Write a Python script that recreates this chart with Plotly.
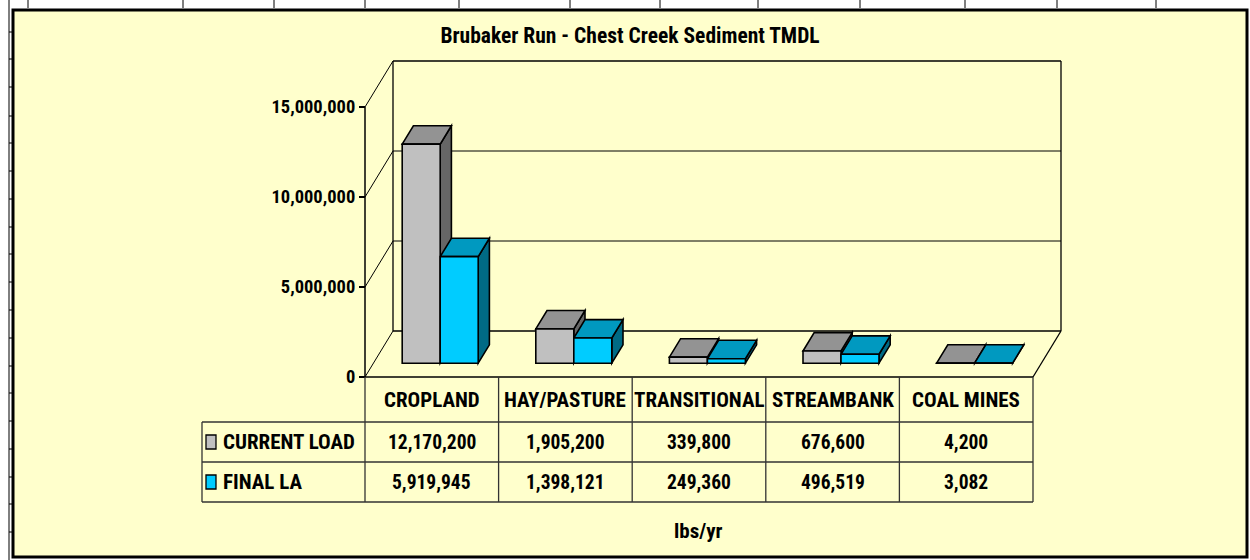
import plotly.graph_objects as go

# ---------------- data ----------------
categories = ["CROPLAND", "HAY/PASTURE", "TRANSITIONAL", "STREAMBANK", "COAL MINES"]
series_names = ["CURRENT LOAD", "FINAL LA"]
current_load = [12170200, 1905200, 339800, 676600, 4200]
final_la = [5919945, 1398121, 249360, 496519, 3082]
y_tick_values = [0, 5000000, 10000000, 15000000]
title_text = "Brubaker Run - Chest Creek Sediment TMDL"
unit_label = "lbs/yr"

series_values = [current_load, final_la]

# ---------------- styles / geometry ----------------
W, H = 1250, 560
FONT = "Liberation Sans Narrow, Arial Narrow, Roboto Condensed, DejaVu Sans Condensed, Arial, sans-serif"
BG = "#FFFFCC"
FRONT_COLORS = ["#C0C0C0", "#00CCFF"]
TOP_COLORS = ["#939393", "#0099C0"]
SIDE_COLORS = ["#666666", "#006A85"]
TXT_SIZE = 21      # letters
NUM_SIZE = 19.5    # numbers in the table
TICK_SIZE = 18.5   # axis tick labels

X0_PX, Y0_PX = 365, 377          # pixel position of category 0 / value 0 on the front plane
PX_PER_CAT = 133.6
PX_PER_VAL = 90 / 5e6
DEPTH_PX_X, DEPTH_PX_Y = 28, 46
DX = DEPTH_PX_X / PX_PER_CAT     # depth offset in category units
DY = DEPTH_PX_Y / PX_PER_VAL     # depth offset in value units
Z0, Z1 = 0.3, 0.7                # front / back depth fraction of the bars
BAR_W = 38 / PX_PER_CAT

n = len(categories)
vmax = y_tick_values[-1]

# main axes ranges (small padding so edge lines are not clipped)
XMIN, XMAX = -0.05, n + DX + 0.05
YMIN, YMAX = -0.3e6, vmax + DY + 0.3e6
x_dom = [(X0_PX + XMIN * PX_PER_CAT) / W, (X0_PX + XMAX * PX_PER_CAT) / W]
y_dom = [1 - (Y0_PX - YMIN * PX_PER_VAL) / H, 1 - (Y0_PX - YMAX * PX_PER_VAL) / H]

# table geometry
LEG_LEFT_PX = 202
LEGW = (X0_PX - LEG_LEFT_PX) / PX_PER_CAT
ROW_EDGES = [0, 45, 85, 125]     # header, row 1, row 2 (pixels below the floor front edge)
X2MIN, X2MAX = -LEGW - 0.04, n + 0.04
Y2MIN, Y2MAX = -2, 128
x2_dom = [(X0_PX + X2MIN * PX_PER_CAT) / W, (X0_PX + X2MAX * PX_PER_CAT) / W]
y2_dom = [1 - (Y0_PX + Y2MAX) / H, 1 - (Y0_PX + Y2MIN) / H]

shapes = []


def seg(x0, y0, x1, y1, width=1.3, xref="x", yref="y", color="black"):
    shapes.append(dict(type="line", xref=xref, yref=yref, x0=x0, y0=y0, x1=x1, y1=y1,
                       layer="below", line=dict(color=color, width=width)))


def poly(pts, fill, xref="x", yref="y"):
    path = "M " + " L ".join(f"{px},{py}" for px, py in pts) + " Z"
    shapes.append(dict(type="path", xref=xref, yref=yref, path=path, layer="below",
                       fillcolor=fill, line=dict(color="black", width=1.6)))


# ---- worksheet background + chart area box (paper) ----
shapes.append(dict(type="rect", xref="paper", yref="paper", x0=13 / W, x1=1247 / W,
                   y0=1 - 557 / H, y1=1 - 10 / H, fillcolor=BG, layer="below",
                   line=dict(color="black", width=3)))
for gx in [28, 183, 274, 365, 459, 570, 660, 758, 860, 965, 1057, 1156]:
    seg(gx / W, 1.0, gx / W, 1 - 8 / H, width=1, xref="paper", yref="paper")
seg(9 / W, 1.0, 9 / W, 0.0, width=1, xref="paper", yref="paper")
for gy in [32, 59, 87, 116, 143, 171, 199, 227, 254, 282, 310, 338, 366, 393, 421, 449, 477, 504, 532]:
    seg(9 / W, 1 - gy / H, 13 / W, 1 - gy / H, width=1, xref="paper", yref="paper")

# ---- 3-D walls / floor ----
seg(0, 0, n, 0, width=1.5)                   # floor front edge
seg(n, 0, n + DX, DY)                        # floor right edge
seg(DX, DY, n + DX, DY, width=1.5)           # floor back edge
seg(DX, DY, DX, vmax + DY)                   # back wall left
seg(n + DX, DY, n + DX, vmax + DY)           # back wall right
seg(DX, vmax + DY, n + DX, vmax + DY)        # back wall top
for v in y_tick_values[1:-1]:
    seg(DX, v + DY, n + DX, v + DY, width=1)  # back wall gridlines
for v in y_tick_values:
    seg(0, v, DX, v + DY, width=1)            # side wall gridlines
seg(0, 0, 0, vmax, width=1.5)                # front value axis

# ---- bar tops and sides ----
bar_x = [[], []]
for i in range(n):
    for s in range(2):
        v = series_values[s][i]
        xl = i + 0.5 - BAR_W + s * BAR_W
        xr = xl + BAR_W
        bar_x[s].append(xl + BAR_W / 2 + Z0 * DX)
        poly([(xr + Z0 * DX, Z0 * DY), (xr + Z1 * DX, Z1 * DY),
              (xr + Z1 * DX, v + Z1 * DY), (xr + Z0 * DX, v + Z0 * DY)], SIDE_COLORS[s])
        poly([(xl + Z0 * DX, v + Z0 * DY), (xr + Z0 * DX, v + Z0 * DY),
              (xr + Z1 * DX, v + Z1 * DY), (xl + Z1 * DX, v + Z1 * DY)], TOP_COLORS[s])

fig = go.Figure()
for s in range(2):
    fig.add_trace(go.Bar(
        x=bar_x[s], y=series_values[s], base=Z0 * DY, width=BAR_W, name=series_names[s],
        marker=dict(color=FRONT_COLORS[s], line=dict(color="black", width=1.6)),
        hoverinfo="skip", showlegend=False))

# dummy trace for the data-table subplot
fig.add_trace(go.Scatter(x=[], y=[], xaxis="x2", yaxis="y2", showlegend=False))

# ---- data table ----
TCOL = "#333333"
for e in ROW_EDGES[1:]:
    seg(-LEGW, e, n, e, width=1.3, xref="x2", yref="y2", color=TCOL)
seg(-LEGW, ROW_EDGES[1], -LEGW, ROW_EDGES[-1], width=1.3, xref="x2", yref="y2", color=TCOL)
for i in range(n + 1):
    seg(i, ROW_EDGES[0], i, ROW_EDGES[-1], width=1.3, xref="x2", yref="y2", color=TCOL)

annotations = []
TFONT = dict(family=FONT, size=TXT_SIZE, color="black", weight="bold")
NFONT = dict(family=FONT, size=NUM_SIZE, color="black", weight="bold")
hdr_y = (ROW_EDGES[0] + ROW_EDGES[1]) / 2
for i, c in enumerate(categories):
    annotations.append(dict(x=i + 0.5, y=hdr_y, xref="x2", yref="y2", text=c, showarrow=False,
                            font=TFONT, xanchor="center", yanchor="middle"))
KEY_X0 = (206 - X0_PX) / PX_PER_CAT
KEY_X1 = (216 - X0_PX) / PX_PER_CAT
LBL_X = (221 - X0_PX) / PX_PER_CAT
for s in range(2):
    yc = (ROW_EDGES[s + 1] + ROW_EDGES[s + 2]) / 2
    shapes.append(dict(type="rect", xref="x2", yref="y2", x0=KEY_X0, x1=KEY_X1, y0=yc - 7, y1=yc + 7,
                       fillcolor=FRONT_COLORS[s], line=dict(color="black", width=1.3)))
    annotations.append(dict(x=LBL_X, y=yc, xref="x2", yref="y2", text=series_names[s], showarrow=False,
                            font=TFONT, xanchor="left", yanchor="middle"))
    for i in range(n):
        annotations.append(dict(x=i + 0.5, y=yc, xref="x2", yref="y2", text=f"{series_values[s][i]:,}",
                                showarrow=False, font=NFONT, xanchor="center", yanchor="middle"))

annotations.append(dict(x=n / 2, y=1 - 531 / H, xref="x2", yref="paper", text=unit_label, showarrow=False,
                        font=TFONT, xanchor="center", yanchor="middle"))

fig.update_layout(
    width=W, height=H, autosize=False,
    margin=dict(l=0, r=0, t=0, b=0, pad=0),
    paper_bgcolor="white", plot_bgcolor="rgba(0,0,0,0)",
    barmode="overlay", hovermode=False, showlegend=False,
    title=dict(text=title_text, x=630 / W, y=1 - 35 / H, xanchor="center", yanchor="middle",
               font=dict(family=FONT, size=21.5, color="black", weight="bold")),
    xaxis=dict(domain=x_dom, range=[XMIN, XMAX], showgrid=False, zeroline=False, showline=False,
               showticklabels=False, ticks="", fixedrange=True),
    yaxis=dict(domain=y_dom, range=[YMIN, YMAX], anchor="free", position=X0_PX / W,
               tickvals=y_tick_values, ticktext=[f"{v:,}" for v in y_tick_values],
               ticks="outside", ticklen=6, tickwidth=1.5, tickcolor="black",
               showgrid=False, zeroline=False, showline=False, automargin=False,
               tickfont=dict(family=FONT, size=TICK_SIZE, color="black", weight="bold"), fixedrange=True),
    xaxis2=dict(domain=x2_dom, range=[X2MIN, X2MAX], anchor="y2", visible=False, fixedrange=True),
    yaxis2=dict(domain=y2_dom, range=[Y2MAX, Y2MIN], anchor="x2", visible=False, fixedrange=True),
    shapes=shapes, annotations=annotations,
)

fig.write_html("out.html", config={"displayModeBar": False},
               post_script="document.body.style.margin='0px';document.body.style.padding='0px';"
                           "document.body.style.overflow='hidden';")
